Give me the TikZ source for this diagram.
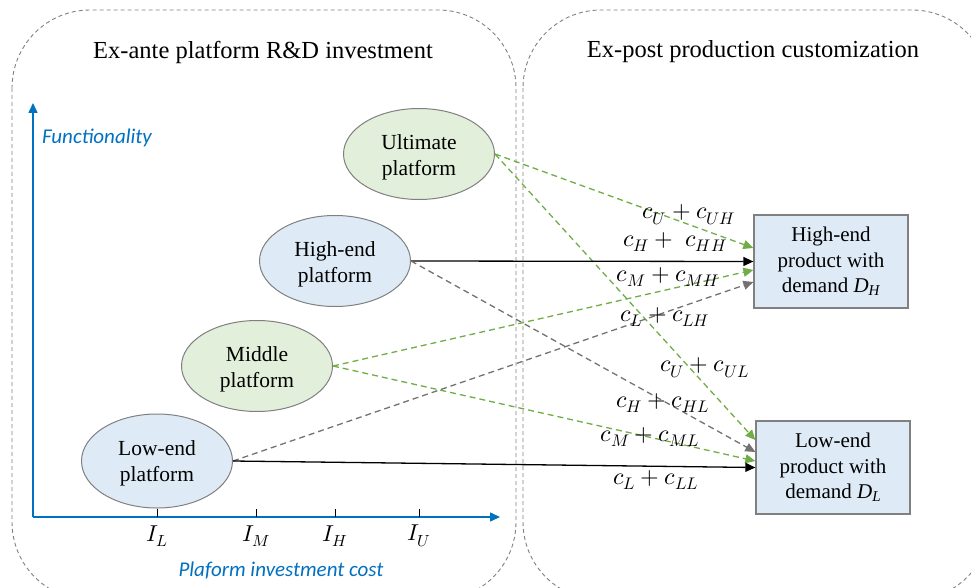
\documentclass[tikz,border=0pt]{standalone}
\usepackage{fontspec}
\usepackage{unicode-math}
\setmainfont{Liberation Serif}
\setmathfont{Latin Modern Math}
\newfontfamily\labelfont{Carlito}
\usetikzlibrary{arrows.meta,shapes.geometric}

\definecolor{axisblue}{RGB}{0,112,192}
\definecolor{platgreen}{RGB}{226,239,218}
\definecolor{platblue}{RGB}{222,235,247}
\definecolor{edgegray}{RGB}{128,128,128}
\definecolor{linkgreen}{RGB}{112,173,71}
\definecolor{linkgray}{RGB}{118,113,113}

% demand symbol set in the text italic
\newcommand{\demand}[1]{\textit{D}\raisebox{-0.3ex}{\fontsize{15}{17}\selectfont\textit{#1}}}

\tikzset{
  phase/.style={draw=edgegray, dashed, line width=0.9pt, rounded corners=78pt, dash pattern=on 4pt off 3pt},
  platform/.style={ellipse, draw=edgegray, line width=1pt, minimum width=151pt, minimum height=91pt,
    inner sep=0pt},
  platlabel/.style={align=center, inner sep=0pt, font=\fontsize{21.5}{26}\selectfont},
  product/.style={rectangle, draw=edgegray, line width=1.3pt, fill=platblue, minimum width=154pt,
    minimum height=93pt, inner sep=0pt, align=center, font=\fontsize{21}{25.5}\selectfont},
  tip/.style={-{Triangle[length=10pt,width=9pt]}},
  solidlink/.style={tip, black, line width=1.3pt},
  greenlink/.style={tip, linkgreen, line width=1.3pt, dash pattern=on 6pt off 4pt},
  graylink/.style={tip, linkgray, line width=1.3pt, dash pattern=on 6pt off 4pt},
  cost/.style={font=\fontsize{24}{28}\selectfont, inner sep=0pt},
  axis/.style={axisblue, line width=1.5pt, -{Triangle[length=10pt,width=9pt]}},
  tick/.style={black, line width=0.8pt},
  ticklabel/.style={font=\fontsize{23}{27}\selectfont, inner sep=0pt},
  axislabel/.style={axisblue, font=\labelfont\itshape\fontsize{21}{25}\selectfont, inner sep=0pt},
  heading/.style={font=\fontsize{24.5}{29}\selectfont, inner sep=0pt}
}

\begin{document}
\begin{tikzpicture}[x=1pt,y=-1pt]
  \useasboundingbox (0,0) rectangle (971,588);
  \clip (0,0) rectangle (971,588);

  % two phases
  \draw[phase] (12,10) rectangle (516,600);
  \draw[phase] (523,10) rectangle (990,600);
  \node[heading] (antetitle) at (263,52) {Ex-ante platform R\&D investment};
  \node[heading] (posttitle) at (753,52) {Ex-post production customization};

  % axes
  \coordinate (origin) at (33,517);
  \coordinate (ytip) at (33,103);
  \coordinate (xtip) at (500,517);
  \draw[axis] (origin) -- (ytip);
  \draw[axis] (origin) -- (xtip);
  \node[axislabel] (ylab) at (97,138) {Functionality};
  \node[axislabel] (xlab) at (281,570) {Plaform investment cost};

  % cost ticks
  \foreach \x/\s in {157/L,256/M,335/H,419/U}{
    \coordinate (t\s) at (\x,517);
    \draw[tick] (t\s) -- ++(0,-8);
    \node[ticklabel] (lab\s) at (\x,536) {$I_{\s}$};
  }

  % platforms (text sits slightly below the ellipse centre)
  \node[platform, fill=platgreen] (ult) at (419,154) {};
  \node[platform, fill=platblue] (high) at (335,261) {};
  \node[platform, fill=platgreen] (mid) at (257,366) {};
  \node[platform, fill=platblue, minimum height=94pt] (low) at (157,461) {};
  \node[platlabel, yshift=-3pt] (ultT) at (ult.center) {Ultimate\\platform};
  \node[platlabel, yshift=-3pt] (highT) at (high.center) {High-end\\platform};
  \node[platlabel, yshift=-3pt] (midT) at (mid.center) {Middle\\platform};
  \node[platlabel, yshift=-2pt] (lowT) at (low.center) {Low-end\\platform};

  % products
  \node[product] (hp) at (831,261.5) {High-end\\product with\\demand \demand{H}};
  \node[product] (lp) at (833,467.5) {Low-end\\product with\\demand \demand{L}};

  % customization links
  \draw[greenlink] (ult.east) -- ([yshift=13.5pt]hp.west);
  \draw[greenlink] (ult.east) -- ([yshift=27.5pt]lp.west);
  \draw[solidlink] (high.east) -- (hp.west);
  \draw[graylink] (high.east) -- ([yshift=15.5pt]lp.west);
  \draw[greenlink] (mid.east) -- ([yshift=-8.5pt]hp.west);
  \draw[greenlink] (mid.east) -- ([yshift=6.5pt]lp.west);
  \draw[graylink] (low.east) -- ([yshift=-20.5pt]hp.west);
  \draw[solidlink] (low.east) -- (lp.west);

  % cost labels
  \node[cost] (cUH) at (689,215) {$c_U + c_{UH}$};
  \node[cost] (cHH) at (675,242) {$c_H +\; c_{HH}$};
  \node[cost] (cMH) at (668,277) {$c_M + c_{MH}$};
  \node[cost] (cLH) at (665,317) {$c_L + c_{LH}$};
  \node[cost] (cUL) at (705,368) {$c_U + c_{UL}$};
  \node[cost] (cHL) at (663,403) {$c_H + c_{HL}$};
  \node[cost] (cML) at (650,437) {$c_M + c_{ML}$};
  \node[cost] (cLL) at (656,480) {$c_L + c_{LL}$};
\end{tikzpicture}
\end{document}
